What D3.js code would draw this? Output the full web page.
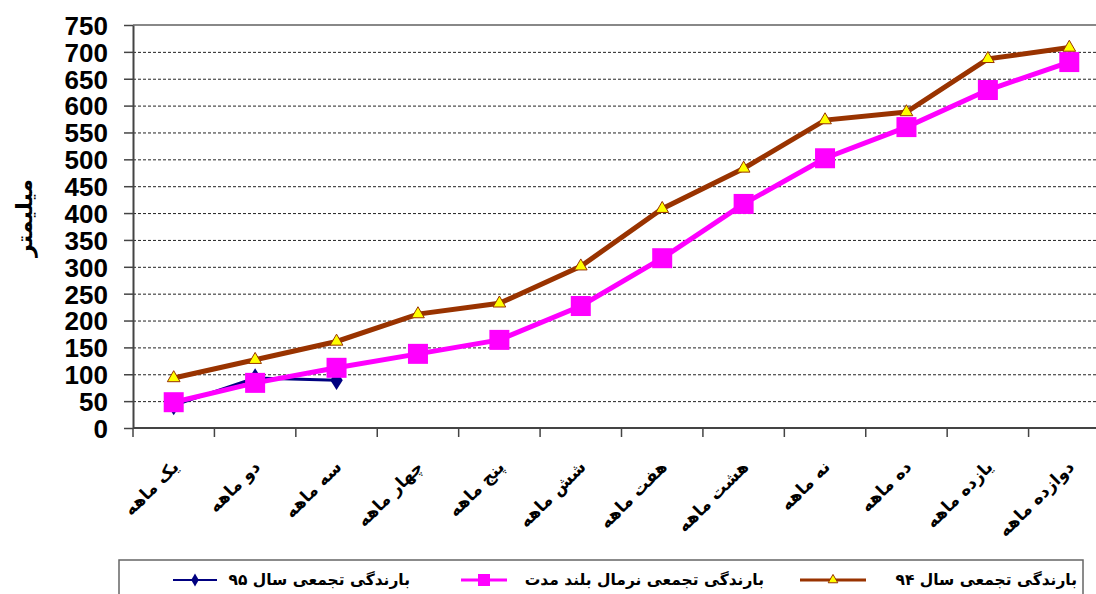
<!DOCTYPE html>
<html>
<head>
<meta charset="utf-8">
<script src="https://cdn.jsdelivr.net/npm/d3@7"></script>
<style>
  body { margin: 0; background: #fff; }
  svg { display: block; }
</style>
</head>
<body>
<svg id="chart"></svg>
<script>
// categories and series
const months = ["یک ماهه", "دو ماهه", "سه ماهه", "چهار ماهه", "پنج ماهه", "شش ماهه",
    "هفت ماهه", "هشت ماهه", "نه ماهه", "ده ماهه", "یازده ماهه", "دوازده ماهه"]
const rain94 = [93, 127, 161, 212, 232, 301, 408, 483, 573, 588, 687, 708]
const rainNormal = [48, 84, 112, 138, 164, 227, 316, 417, 502, 560, 629, 681]
const rain95 = [42, 93, 89]
const yTicks = [0, 50, 100, 150, 200, 250, 300, 350, 400, 450, 500, 550, 600, 650, 700, 750]
const legendNames = ["بارندگی تجمعی سال ۹۴", "بارندگی تجمعی نرمال بلند مدت", "بارندگی تجمعی سال ۹۵"]

const W = 1096, H = 594
const margin = { top: 25, left: 133 }
const plotRight = 1110   // plot runs past the picture edge, as in the source
const plotBottom = 428

const svg = d3.select('#chart').attr('width', W).attr('height', H)

const x = d3.scaleBand().domain(months).range([margin.left, plotRight])
const y = d3.scaleLinear().domain([0, 750]).range([plotBottom, margin.top])
const cx = d => x(d) + x.bandwidth() / 2

// dashed grid
svg.append('g')
    .attr('transform', `translate(${margin.left},0)`)
    .call(d3.axisLeft(y).tickValues(yTicks.filter(v => v > 0 && v < 750))
        .tickSize(-(plotRight - margin.left)).tickFormat(''))
    .call(g => g.select('.domain').remove())
    .selectAll('line')
    .attr('stroke', '#222')
    .attr('stroke-width', 1)
    .attr('stroke-dasharray', '3,2')

// top border of plot area
svg.append('line')
    .attr('x1', margin.left).attr('x2', plotRight)
    .attr('y1', y(750)).attr('y2', y(750))
    .attr('stroke', '#888').attr('stroke-width', 2)

// y axis
const yAxis = svg.append('g')
    .attr('transform', `translate(${margin.left},0)`)
    .call(d3.axisLeft(y).tickValues(yTicks).tickSize(9).tickPadding(16).tickSizeOuter(0))
yAxis.select('.domain').attr('stroke', '#444').attr('stroke-width', 2)
yAxis.selectAll('.tick line').attr('stroke', '#444').attr('stroke-width', 1.5)
yAxis.selectAll('text')
    .attr('dy', '0.36em')
    .style('font-family', '"Liberation Sans", Arial, sans-serif')
    .style('font-weight', 'bold')
    .style('font-size', '26px')
    .attr('fill', '#000')

// x axis: baseline + ticks at category boundaries
svg.append('line')
    .attr('x1', margin.left).attr('x2', plotRight)
    .attr('y1', plotBottom).attr('y2', plotBottom)
    .attr('stroke', '#444').attr('stroke-width', 2)
svg.append('g').selectAll('line')
    .data(months)
    .enter().append('line')
    .attr('x1', d => x(d)).attr('x2', d => x(d))
    .attr('y1', plotBottom).attr('y2', plotBottom + 9)
    .attr('stroke', '#444').attr('stroke-width', 1.5)

svg.append('g').selectAll('text')
    .data(months)
    .enter().append('text')
    .attr('transform', d => `translate(${cx(d) + 6},${plotBottom + 40}) rotate(-45)`)
    .attr('text-anchor', 'end')
    .style('font-family', '"DejaVu Sans", sans-serif')
    .style('font-weight', 'bold')
    .style('font-size', '17px')
    .text(d => d)

// y axis title
svg.append('text')
    .attr('transform', `translate(32,218) rotate(-90)`)
    .attr('text-anchor', 'middle')
    .style('font-family', '"DejaVu Sans", sans-serif')
    .style('font-weight', 'bold')
    .style('font-size', '22px')
    .text('میلیمتر')

// lines
const line = d3.line()
    .x((d, i) => cx(months[i]))
    .y(d => y(d))

// series 95 (navy diamonds)
svg.append('path')
    .datum(rain95)
    .attr('fill', 'none')
    .attr('stroke', '#000080')
    .attr('stroke-width', 3)
    .attr('d', line)
svg.append('g').selectAll('path')
    .data(rain95)
    .enter().append('path')
    .attr('d', d3.symbol(d3.symbolDiamond, 110))
    .attr('transform', (d, i) => `translate(${cx(months[i])},${y(d)}) scale(1.1,1)`)
    .attr('fill', '#000080')

// normal (magenta squares)
svg.append('path')
    .datum(rainNormal)
    .attr('fill', 'none')
    .attr('stroke', '#ff00ff')
    .attr('stroke-width', 5)
    .attr('d', line)
svg.append('g').selectAll('rect')
    .data(rainNormal)
    .enter().append('rect')
    .attr('x', (d, i) => cx(months[i]) - 10)
    .attr('y', d => y(d) - 10)
    .attr('width', 20).attr('height', 20)
    .attr('fill', '#ff00ff')

// series 94 (brown line with yellow triangles)
svg.append('path')
    .datum(rain94)
    .attr('fill', 'none')
    .attr('stroke', '#993300')
    .attr('stroke-width', 5)
    .attr('d', line)
svg.append('g').selectAll('path')
    .data(rain94)
    .enter().append('path')
    .attr('d', d3.symbol(d3.symbolTriangle, 70))
    .attr('transform', (d, i) => `translate(${cx(months[i])},${y(d)})`)
    .attr('fill', '#ffff00')
    .attr('stroke', '#993300')
    .attr('stroke-width', 1)

// legend
svg.append('rect')
    .attr('x', 119).attr('y', 560)
    .attr('width', 964).attr('height', 60)
    .attr('fill', 'none')
    .attr('stroke', '#666').attr('stroke-width', 1.5)

const legendItems = [
    { name: legendNames[0], color: '#993300', w: 3, mark: 'tri', lx: 833, half: 33, tx: 1077 },
    { name: legendNames[1], color: '#ff00ff', w: 3, mark: 'sq', lx: 484, half: 23, tx: 764 },
    { name: legendNames[2], color: '#000080', w: 2, mark: 'dia', lx: 195, half: 22, tx: 410 },
]
const lg = svg.append('g').selectAll('g')
    .data(legendItems)
    .enter().append('g')
lg.append('line')
    .attr('x1', d => d.lx - d.half).attr('x2', d => d.lx + d.half)
    .attr('y1', 580).attr('y2', 580)
    .attr('stroke', d => d.color).attr('stroke-width', d => d.w)
lg.filter(d => d.mark === 'tri').append('path')
    .attr('d', d3.symbol(d3.symbolTriangle, 40))
    .attr('transform', d => `translate(${d.lx},580)`)
    .attr('fill', '#ffff00').attr('stroke', '#993300')
lg.filter(d => d.mark === 'sq').append('rect')
    .attr('x', d => d.lx - 6).attr('y', 574)
    .attr('width', 12).attr('height', 12)
    .attr('fill', '#ff00ff')
lg.filter(d => d.mark === 'dia').append('path')
    .attr('d', d3.symbol(d3.symbolDiamond, 50))
    .attr('transform', d => `translate(${d.lx},580)`)
    .attr('fill', '#000080')
lg.append('text')
    .attr('x', d => d.tx).attr('y', 585)
    .attr('text-anchor', 'end')
    .style('font-family', '"DejaVu Sans", sans-serif')
    .style('font-weight', 'bold')
    .style('font-size', '15.5px')
    .text(d => d.name)
</script>
</body>
</html>
